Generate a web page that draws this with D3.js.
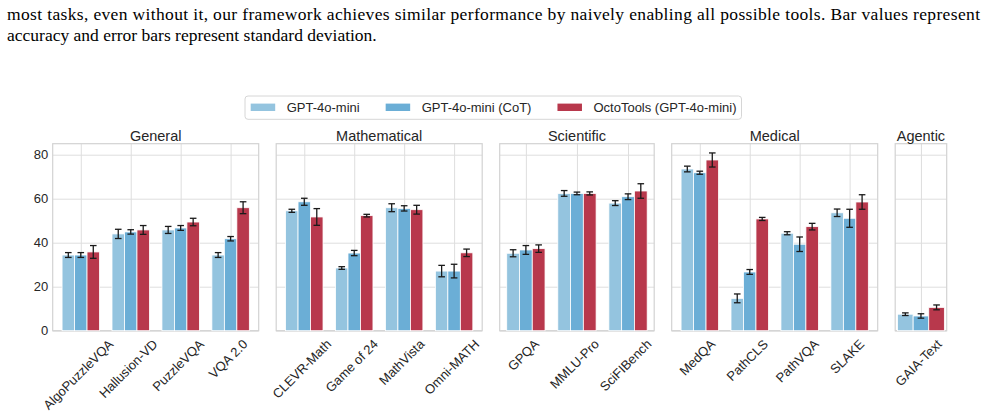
<!DOCTYPE html>
<html>
<head>
<meta charset="utf-8">
<script src="https://cdn.jsdelivr.net/npm/d3@7"></script>
<style>
  body { margin: 0; background: #fff; }
  svg { display: block; }
  .axis text { font-family: "Liberation Sans", Arial, sans-serif; font-size: 13px; fill: #262626; }
</style>
</head>
<body>
<svg id="chart" width="985" height="414"></svg>
<script>
const captionLines = [
  'most tasks, even without it, our framework achieves similar performance by naively enabling all possible tools. Bar values represent',
  'accuracy and error bars represent standard deviation.'
]
const groups = ['General', 'Mathematical', 'Scientific', 'Medical', 'Agentic']
const categories = [
  ['AlgoPuzzleVQA', 'Hallusion-VD', 'PuzzleVQA', 'VQA 2.0'],
  ['CLEVR-Math', 'Game of 24', 'MathVista', 'Omni-MATH'],
  ['GPQA', 'MMLU-Pro', 'SciFIBench'],
  ['MedQA', 'PathCLS', 'PathVQA', 'SLAKE'],
  ['GAIA-Text']
]
const seriesNames = ['GPT-4o-mini', 'GPT-4o-mini (CoT)', 'OctoTools (GPT-4o-mini)']
// values in category order (all groups flattened)
const baseVals = [34.4, 44.0, 45.8, 34.4, 54.5, 28.5, 55.9, 27.1, 35.2, 62.4, 58.0, 73.5, 14.7, 44.3, 53.6, 7.5]
const baseErr  = [1.1, 2.1, 1.6, 1.1, 0.7, 0.6, 1.8, 2.6, 1.6, 1.3, 1.1, 1.3, 2.0, 0.7, 1.7, 0.6]
const cotVals  = [34.4, 44.9, 46.7, 41.8, 58.6, 35.3, 55.6, 27.1, 36.7, 62.4, 60.9, 71.8, 26.7, 39.3, 51.1, 6.7]
const cotErr   = [1.1, 1.0, 1.1, 1.0, 1.6, 1.2, 1.2, 3.1, 2.0, 0.6, 1.3, 0.7, 1.1, 3.3, 4.1, 1.0]
const octoVals = [35.8, 45.8, 49.4, 55.9, 51.7, 52.3, 55.0, 35.4, 37.3, 62.4, 63.5, 77.6, 50.8, 47.3, 58.5, 10.6]
const octoErr  = [2.9, 2.0, 1.7, 2.7, 3.8, 0.6, 2.0, 1.7, 1.7, 0.7, 3.3, 3.2, 0.7, 1.5, 3.3, 1.1]
const yTicks = [0, 20, 40, 60, 80]

const colors = ['#94c4df', '#6baed6', '#b8384c']
const series = [
  {vals: baseVals, err: baseErr},
  {vals: cotVals, err: cotErr},
  {vals: octoVals, err: octoErr}
]

function main() {
    let svg = d3.select('#chart')
    let left = 52.7, top = 143.7, bottom = 330.7,
        perCat = 51.5, gap = 17.5, barW = 0.25

    let yScale = d3.scaleLinear().domain([0, 85]).range([bottom, top])

    // caption text
    svg.append('text')
        .attr('x', 7).attr('y', 20)
        .attr('textLength', 973).attr('lengthAdjust', 'spacing')
        .style('font-family', '"Liberation Serif", "Times New Roman", serif')
        .style('font-size', '17.5px')
        .text(captionLines[0])
    svg.append('text')
        .attr('x', 7).attr('y', 41)
        .style('font-family', '"Liberation Serif", "Times New Roman", serif')
        .style('font-size', '17.5px')
        .text(captionLines[1])

    let x0 = left, offset = 0
    groups.forEach((name, gi) => {
        let cats = categories[gi], n = cats.length
        let x1 = x0 + n * perCat
        let m = 0.05 * (n - 1 + 2 * barW * 1.5)
        let xScale = d3.scaleLinear()
            .domain([-1.5 * barW - m, n - 1 + 1.5 * barW + m])
            .range([x0, x1])
        let g = svg.append('g')

        // horizontal grid
        g.append('g')
            .attr('class', 'axis')
            .attr('transform', 'translate(' + x0 + ', 0)')
            .call(d3.axisLeft(yScale).tickValues(yTicks).tickSize(-(x1 - x0)).tickPadding(4.5)
                .tickFormat(gi === 0 ? d3.format('d') : ''))
            .call(a => a.select('.domain').remove())
            .call(a => a.selectAll('line').attr('stroke', '#dedede').attr('stroke-width', 1))

        // vertical grid + category labels
        let xAxis = g.append('g')
            .attr('class', 'axis')
            .attr('transform', 'translate(0, ' + bottom + ')')
            .call(d3.axisBottom(xScale).tickValues(d3.range(n)).tickSize(-(bottom - top))
                .tickFormat(i => cats[i]))
        xAxis.select('.domain').remove()
        xAxis.selectAll('line').attr('stroke', '#dedede').attr('stroke-width', 1)
        xAxis.selectAll('text')
            .attr('y', 0).attr('dy', '0.35em')
            .attr('text-anchor', 'middle')
            .attr('transform', function () {
                let L = this.getComputedTextLength()
                return 'translate(-3, ' + (7.5 + 0.354 * (L + 10)) + ') rotate(-45)'
            })

        // frame
        g.append('rect')
            .attr('x', x0).attr('y', top)
            .attr('width', x1 - x0).attr('height', bottom - top)
            .attr('fill', 'none').attr('stroke', '#d2d2d2').attr('stroke-width', 1.2)

        // bars
        series.forEach((s, si) => {
            let data = cats.map((c, i) => ({i: i, v: s.vals[offset + i], e: s.err[offset + i]}))
            let bx = d => xScale(d.i + (si - 1) * barW - barW / 2)
            let bw = xScale(barW) - xScale(0)
            g.selectAll('rect.bar' + si)
                .data(data)
                .enter()
                .append('rect')
                .attr('class', 'bar' + si)
                .attr('x', bx)
                .attr('y', d => yScale(d.v))
                .attr('width', bw)
                .attr('height', d => yScale(0) - yScale(d.v))
                .attr('fill', colors[si])
                .attr('stroke', '#fff').attr('stroke-width', 0.8)

            let eg = g.selectAll('g.err' + si)
                .data(data)
                .enter()
                .append('g')
                .attr('class', 'err' + si)
                .attr('stroke', '#1a1a1a').attr('stroke-width', 1.3)
            let cx = d => xScale(d.i + (si - 1) * barW)
            eg.append('line')
                .attr('x1', cx).attr('x2', cx)
                .attr('y1', d => yScale(d.v - d.e)).attr('y2', d => yScale(d.v + d.e))
            eg.append('line')
                .attr('x1', d => cx(d) - 3.3).attr('x2', d => cx(d) + 3.3)
                .attr('y1', d => yScale(d.v - d.e)).attr('y2', d => yScale(d.v - d.e))
            eg.append('line')
                .attr('x1', d => cx(d) - 3.3).attr('x2', d => cx(d) + 3.3)
                .attr('y1', d => yScale(d.v + d.e)).attr('y2', d => yScale(d.v + d.e))
        })

        // group title
        svg.append('text')
            .attr('x', (x0 + x1) / 2).attr('y', 140.5)
            .attr('text-anchor', 'middle')
            .style('font-family', '"Liberation Sans", Arial, sans-serif')
            .style('font-size', '14.5px')
            .style('fill', '#262626')
            .text(name)

        offset += n
        x0 = x1 + gap
    })

    // legend
    let legend = svg.append('g')
    let box = legend.append('rect')
        .attr('y', 96).attr('height', 23.3).attr('rx', 3)
        .attr('fill', '#fff').attr('stroke', '#d6d6d6').attr('stroke-width', 1)
    let lx = 250.7
    seriesNames.forEach((name, si) => {
        legend.append('rect')
            .attr('x', lx).attr('y', 103.6)
            .attr('width', 24.5).attr('height', 7.4)
            .attr('fill', colors[si])
        let t = legend.append('text')
            .attr('x', lx + 36).attr('y', 107.6).attr('dy', '0.35em')
            .style('font-family', '"Liberation Sans", Arial, sans-serif')
            .style('font-size', '13px')
            .style('fill', '#262626')
            .text(name)
        lx += 36 + t.node().getComputedTextLength() + (si < seriesNames.length - 1 ? 26 : 0)
    })
    box.attr('x', 245).attr('width', lx + 5 - 245)
}

main()
</script>
</body>
</html>
